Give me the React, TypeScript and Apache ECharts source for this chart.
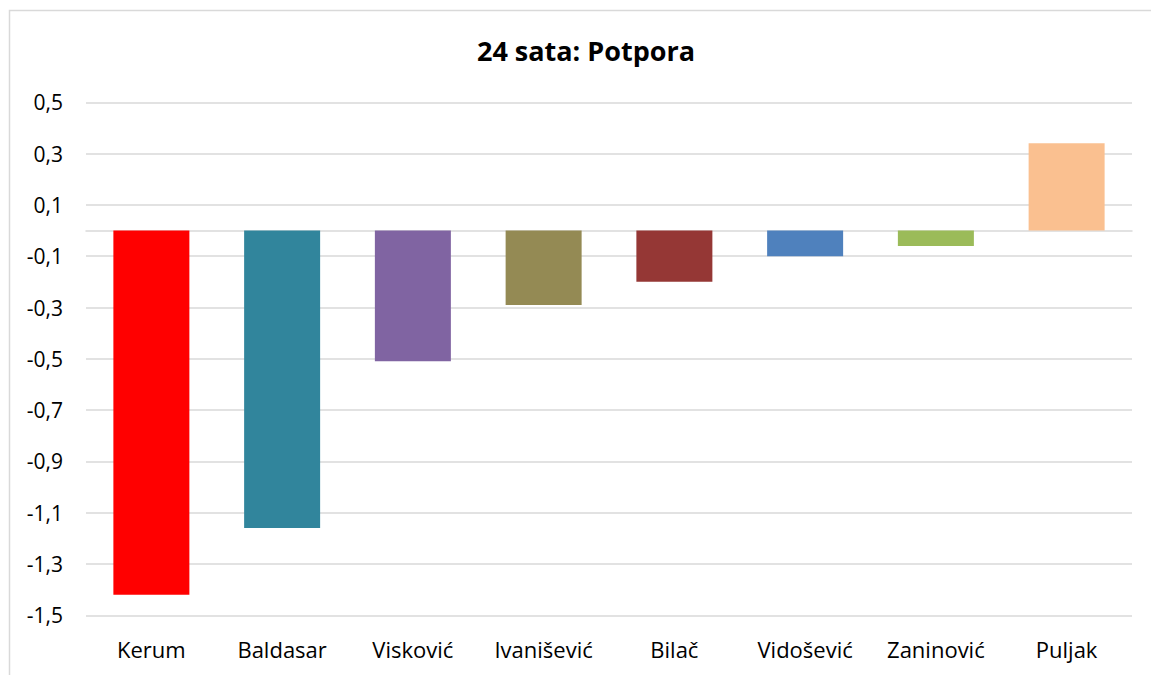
import React, { useEffect, useRef } from "react";
import * as echarts from "echarts";

const categories = ["Kerum", "Baldasar", "Visković", "Ivanišević", "Bilač", "Vidošević", "Zaninović", "Puljak"];
const values = [-1.42, -1.16, -0.51, -0.29, -0.2, -0.1, -0.06, 0.34];
const barColors = ["#FF0000", "#31859C", "#8064A2", "#948A54", "#953735", "#4F81BD", "#9BBB59", "#FAC090"];
const tickValues = [0.5, 0.3, 0.1, -0.1, -0.3, -0.5, -0.7, -0.9, -1.1, -1.3, -1.5];
const titleText = "24 sata: Potpora";

const FONT = "'Open Sans', 'Noto Sans', sans-serif";

export default function App() {
  const ref = useRef<HTMLDivElement>(null);
  useEffect(() => {
    if (!ref.current) return;
    const chart = echarts.init(ref.current, undefined, { renderer: "svg" });
    const isTick = (v: number) => tickValues.some((t) => Math.abs(t - v) < 1e-6);
    chart.setOption({
      animation: false,
      backgroundColor: "#ffffff",
      title: {
        text: titleText,
        left: 581,
        top: 32,
        textAlign: "center",
        textStyle: { fontFamily: FONT, fontSize: 27, fontWeight: "bold", color: "#000000" },
      },
      graphic: [
        {
          type: "rect",
          shape: { x: 9.5, y: 10.5, width: 1200, height: 700 },
          style: { fill: "none", stroke: "#d9d9d9", lineWidth: 1.5 },
          silent: true,
        },
      ],
      grid: { left: 86, right: 19, top: 102.3, bottom: 59.7, containLabel: false },
      xAxis: {
        type: "category",
        data: categories,
        axisTick: { show: false },
        axisLine: { show: true, onZero: true, lineStyle: { color: "#d9d9d9", width: 1.5 } },
        axisLabel: {
          fontFamily: FONT,
          fontSize: 22,
          color: "#000000",
          margin: 23,
          interval: 0,
        },
        splitLine: { show: false },
      },
      yAxis: {
        type: "value",
        min: -1.5,
        max: 0.5,
        interval: 0.1,
        axisLine: { show: false },
        axisTick: { show: false },
        splitLine: { show: false },
        axisLabel: {
          fontFamily: FONT,
          fontSize: 21,
          color: "#000000",
          margin: 23,
          formatter: (v: number) => (isTick(v) ? v.toFixed(1).replace(".", ",") : ""),
        },
      },
      series: [
        {
          type: "bar",
          barWidth: 76,
          z: 3,
          data: values.map((v, i) => ({ value: v, itemStyle: { color: barColors[i] } })),
          markLine: {
            silent: true,
            z: 1,
            symbol: ["none", "none"],
            label: { show: false },
            lineStyle: { color: "#d9d9d9", width: 1.5, type: "solid" },
            emphasis: { disabled: true },
            data: tickValues.map((t) => ({ yAxis: t })),
          },
        },
      ],
    });
    return () => chart.dispose();
  }, []);
  return (
    <div
      ref={ref}
      style={{ position: "absolute", left: 0, top: 0, width: 1151, height: 675 }}
    />
  );
}
